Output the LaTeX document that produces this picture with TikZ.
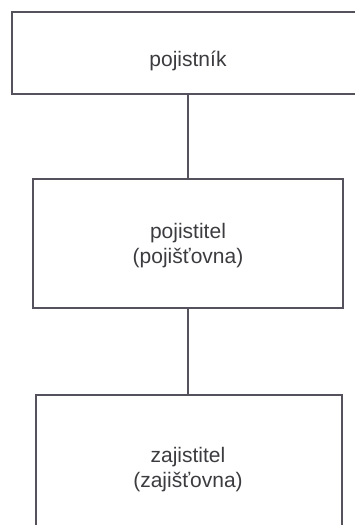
\documentclass[tikz,border=0pt]{standalone}
\usepackage{fontspec}
\setmainfont{Liberation Sans}
\definecolor{boxline}{HTML}{55525E}
\definecolor{txt}{HTML}{3C3C40}
\begin{document}
\begin{tikzpicture}[x=1pt,y=1pt,
  box/.style={draw=boxline,line width=1.3pt,rectangle,inner sep=0pt},
  lbl/.style={text=txt,font=\fontsize{21}{25}\selectfont,align=center,inner sep=0pt},
  conn/.style={draw=boxline,line width=1.3pt}]
\useasboundingbox (0,0) rectangle (355,-525);
\clip (0,0) rectangle (355,-525);
\node[box,minimum width=348pt,minimum height=82pt] (top) at (186,-53) {};
\node[box,minimum width=310pt,minimum height=129pt] (mid) at (188,-243.5) {};
\node[box,minimum width=306pt,minimum height=150pt] (bot) at (189,-470) {};
\node[lbl] (t1) at (188,-61) {pojistník};
\node[lbl] (t2) at (188,-246) {pojistitel\\(pojišťovna)};
\node[lbl] (t3) at (188,-470) {zajistitel\\(zajišťovna)};
\draw[conn] (mid.north) -- (mid.north |- top.south);
\draw[conn] (mid.south) -- (mid.south |- bot.north);
\end{tikzpicture}
\end{document}
